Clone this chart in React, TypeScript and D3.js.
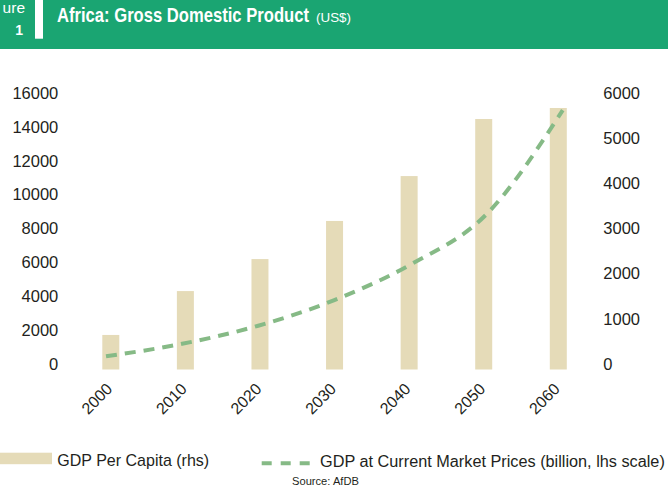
import React, { useLayoutEffect, useRef, useState } from "react";
import * as d3 from "d3";

const years = ["2000", "2010", "2020", "2030", "2040", "2050", "2060"];
const barValues = [2040, 4630, 6520, 8770, 11420, 14790, 15440];
const lineValues = [292, 569, 969, 1538, 2323, 3440, 5741];
const leftTicks = [0, 2000, 4000, 6000, 8000, 10000, 12000, 14000, 16000];
const rightTicks = [0, 1000, 2000, 3000, 4000, 5000, 6000];
const titleText = "Africa: Gross Domestic Product";
const titleUnit = "(US$)";
const legendBar = "GDP Per Capita (rhs)";
const legendLine = "GDP at Current  Market Prices (billion, lhs scale)";
const sourceText = "Source: AfDB";

const W = 668;
const H = 494;
const FONT = "'Liberation Sans', Arial, Helvetica, sans-serif";
const TEXT = "#231f20";
const BAR = "#e5dbb8";
const LINE = "#86ba86";
const HEADER = "#1aa572";

function FitText(props: {
  x: number;
  y: number;
  width: number;
  fontSize: number;
  fontWeight?: string;
  fill: string;
  children: string;
}) {
  const ref = useRef<SVGTextElement>(null);
  const [k, setK] = useState(1);
  useLayoutEffect(() => {
    if (ref.current) {
      const w = ref.current.getComputedTextLength();
      if (w > 0) setK(props.width / w);
    }
  }, [props.width, props.children]);
  return (
    <text
      ref={ref}
      x={0}
      y={0}
      fontSize={props.fontSize}
      fontWeight={props.fontWeight}
      fill={props.fill}
      transform={`translate(${props.x},${props.y}) scale(${k},1)`}
    >
      {props.children}
    </text>
  );
}

export default function App() {
  const y0 = 369.5;
  const yTop = 98.5;
  const yLeft = d3.scaleLinear().domain([0, 16000]).range([y0, yTop]);
  const yRight = d3.scaleLinear().domain([0, 6000]).range([y0, yTop]);
  const xBar = d3.scalePoint<string>().domain(years).range([110.8, 558.3]);
  const xLine = d3.scalePoint<string>().domain(years).range([106, 562.7]);
  const barW = 17;
  const labelShift = -5.5;

  const line = d3
    .line<number>()
    .x((_, i) => xLine(years[i]) as number)
    .y((d) => yRight(d))
    .curve(d3.curveMonotoneX);

  return (
    <div style={{ position: "absolute", left: 0, top: 0 }}>
      <svg width={W} height={H} style={{ display: "block", fontFamily: FONT }}>
        <rect x={0} y={0} width={W} height={H} fill="#ffffff" />
        {/* header */}
        <rect x={0} y={0} width={W} height={49} fill={HEADER} />
        <rect x={35} y={0} width={8} height={38.7} fill="#ffffff" />
        <text x={25} y={13.3} textAnchor="end" fontSize={15.5} fill="#ffffff">
          ure
        </text>
        <text x={23} y={35} textAnchor="end" fontSize={14} fontWeight="bold" fill="#ffffff">
          1
        </text>
        <FitText x={57} y={22} width={252} fontSize={19.5} fontWeight="bold" fill="#ffffff">
          {titleText}
        </FitText>
        <FitText x={316} y={22} width={35} fontSize={13.5} fill="#ffffff">
          {titleUnit}
        </FitText>

        {/* bars */}
        {barValues.map((v, i) => (
          <rect
            key={years[i]}
            x={(xBar(years[i]) as number) - barW / 2}
            y={yLeft(v)}
            width={barW}
            height={y0 - yLeft(v)}
            fill={BAR}
          />
        ))}

        {/* line */}
        <path
          d={line(lineValues) || ""}
          fill="none"
          stroke={LINE}
          strokeWidth={4}
          strokeDasharray="11,8"
        />

        {/* left axis */}
        {leftTicks.map((t) => (
          <text
            key={"l" + t}
            x={58.3}
            y={yLeft(t) + labelShift}
            dy="0.35em"
            textAnchor="end"
            fontSize={16.5}
            fill={TEXT}
          >
            {t}
          </text>
        ))}

        {/* right axis */}
        {rightTicks.map((t) => (
          <text
            key={"r" + t}
            x={603.3}
            y={yRight(t) + labelShift}
            dy="0.35em"
            textAnchor="start"
            fontSize={16.5}
            fill={TEXT}
          >
            {t}
          </text>
        ))}

        {/* x axis labels */}
        {years.map((yr) => {
          const x = (xBar(yr) as number) + 2.5;
          const y = y0 + 20.5;
          return (
            <text
              key={"x" + yr}
              x={x}
              y={y}
              textAnchor="end"
              fontSize={16}
              fill={TEXT}
              transform={`rotate(-45 ${x} ${y})`}
            >
              {yr}
            </text>
          );
        })}

        {/* legend */}
        <rect x={0} y={452.7} width={52} height={11.5} fill={BAR} />
        <FitText x={57.3} y={466} width={152} fontSize={16} fill={TEXT}>
          {legendBar}
        </FitText>
        <line
          x1={261.7}
          x2={311}
          y1={463.3}
          y2={463.3}
          stroke={LINE}
          strokeWidth={4}
          strokeDasharray="10,9"
        />
        <FitText x={320} y={466.5} width={345} fontSize={16} fill={TEXT}>
          {legendLine}
        </FitText>
        <FitText x={292} y={485} width={67} fontSize={11} fill={TEXT}>
          {sourceText}
        </FitText>
      </svg>
    </div>
  );
}
